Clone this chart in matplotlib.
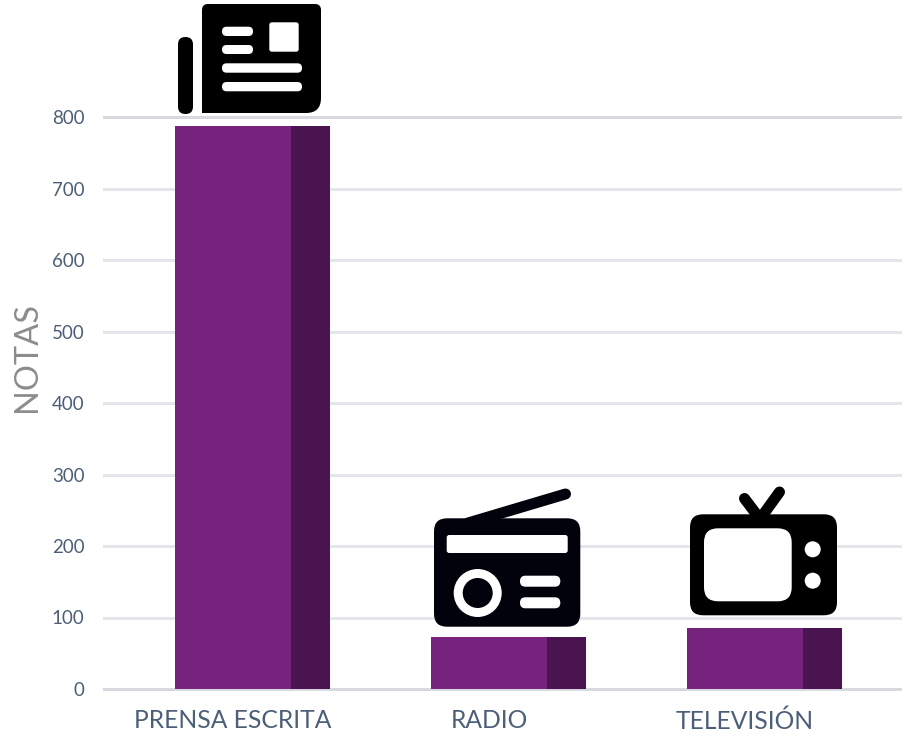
import matplotlib
matplotlib.use("Agg")
from matplotlib import pyplot as plt
from matplotlib.patches import Circle, FancyBboxPatch, PathPatch
from matplotlib.path import Path

categories = ["PRENSA ESCRITA", "RADIO", "TELEVISIÓN"]
notas = [787, 73, 85]
y_ticks = [0, 100, 200, 300, 400, 500, 600, 700, 800]

PURPLE = "#76237e"
DARK_PURPLE = "#4a1450"
GRID = "#e5e6ec"
TICK = "#4d5f78"
BLACK = "#000000"
RADIO_BLACK = "#02020c"
WHITE = "#ffffff"
W, H = 902, 734
PX = 0.72  # one pixel in points at dpi 100

plt.rcParams["font.family"] = ["Lato", "DejaVu Sans"]
fig = plt.figure(figsize=(W / 100, H / 100), dpi=100)

# Chart axes, 0 at y=689 and 800 at y=117
ax = fig.add_axes([104 / W, (H - 689) / H, (902 - 104) / W, (689 - 117) / H])
ax.set_xlim(-0.58, 2.537)
ax.set_ylim(0, 800)
ax.patch.set_alpha(0)

for y in y_ticks:
    ax.axhline(y, color="#d8d9e0" if y in (0, 800) else GRID, lw=3 * PX, zorder=1, clip_on=False)

x = list(range(len(categories)))
width = 155 / 256
front = 116 / 256
for i, v in zip(x, notas):
    ax.bar(i - width / 2, v, width=front, align="edge", color=PURPLE, zorder=2)
    ax.bar(i - width / 2 + front, v, width=width - front, align="edge", color=DARK_PURPLE, zorder=2)

# Labels sit under the light face of each bar, not under its centre
ax.set_xticks([i - width / 2 + front / 2 for i in x], categories)
ax.set_yticks(y_ticks)
ax.tick_params(axis="both", length=0, colors=TICK)
ax.tick_params(axis="x", labelsize=17.7, pad=14.5)
ax.tick_params(axis="y", labelsize=13.5, pad=14)
for s in ax.spines.values():
    s.set_visible(False)
fig.text(27 / W, 1 - 357 / H, "NOTAS", rotation=90, color="#8c8c8c", fontsize=23.5,
         ha="center", va="center")

# Icons are drawn on a pixel overlay
ov = fig.add_axes([0, 0, 1, 1])
ov.set_xlim(0, W)
ov.set_ylim(H, 0)
ov.axis("off")
ov.patch.set_alpha(0)


def rrect(x0, y0, x1, y1, r, color, z=5):
    ov.add_patch(FancyBboxPatch((x0 + r, y0 + r), x1 - x0 - 2 * r, y1 - y0 - 2 * r,
                                boxstyle=f"round,pad={r},rounding_size={r}",
                                fc=color, ec="none", zorder=z))


def stroke(xs, ys, lw, color, z=5):
    ov.plot(xs, ys, color=color, lw=lw * PX, solid_capstyle="round", solid_joinstyle="round", zorder=z)


# Newspaper
x0, y0, x1, y1 = 202, 4, 321, 113
rt, rb = 6, 15
verts = [(x0, y1), (x0, y0 + rt), (x0, y0), (x0 + rt, y0), (x1 - rt, y0), (x1, y0), (x1, y0 + rt),
         (x1, y1 - rb), (x1, y1), (x1 - rb, y1), (x0, y1)]
codes = [Path.MOVETO, Path.LINETO, Path.CURVE3, Path.CURVE3, Path.LINETO, Path.CURVE3, Path.CURVE3,
         Path.LINETO, Path.CURVE3, Path.CURVE3, Path.CLOSEPOLY]
ov.add_patch(PathPatch(Path(verts, codes), fc=BLACK, ec="none", zorder=5))
rrect(178, 37, 193, 114, 7.4, BLACK)
rrect(222, 26.7, 253, 36, 4.6, WHITE, 6)
rrect(222, 45, 253, 54, 4.5, WHITE, 6)
rrect(222, 63.3, 302, 72.7, 4.6, WHITE, 6)
rrect(222, 82, 302, 91.3, 4.6, WHITE, 6)
rrect(269.3, 22.3, 298.7, 51.7, 2.5, WHITE, 6)

# Radio
rrect(434, 518.3, 580.3, 626.7, 13, RADIO_BLACK)
stroke([468, 565.5], [523, 494], 11, RADIO_BLACK)
rrect(446.7, 535, 567.7, 553, 2.5, WHITE, 6)
ov.add_patch(Circle((477.7, 593), 24, fc=WHITE, ec="none", zorder=6))
ov.add_patch(Circle((477.7, 593), 15, fc=RADIO_BLACK, ec="none", zorder=7))
rrect(520, 575.7, 560.3, 586.7, 5.4, WHITE, 6)
rrect(520, 597.3, 560.3, 608.3, 5.4, WHITE, 6)

# Television
rrect(690, 514.3, 837, 615.3, 13, BLACK)
stroke([744.5, 760, 779.5], [498.5, 519, 492], 11, BLACK)
rrect(704, 528.3, 791.7, 601.3, 14, WHITE, 6)
ov.add_patch(Circle((812.7, 549.3), 8, fc=WHITE, ec="none", zorder=6))
ov.add_patch(Circle((812.7, 580.7), 8, fc=WHITE, ec="none", zorder=6))

fig.savefig("out.png", dpi=100)
